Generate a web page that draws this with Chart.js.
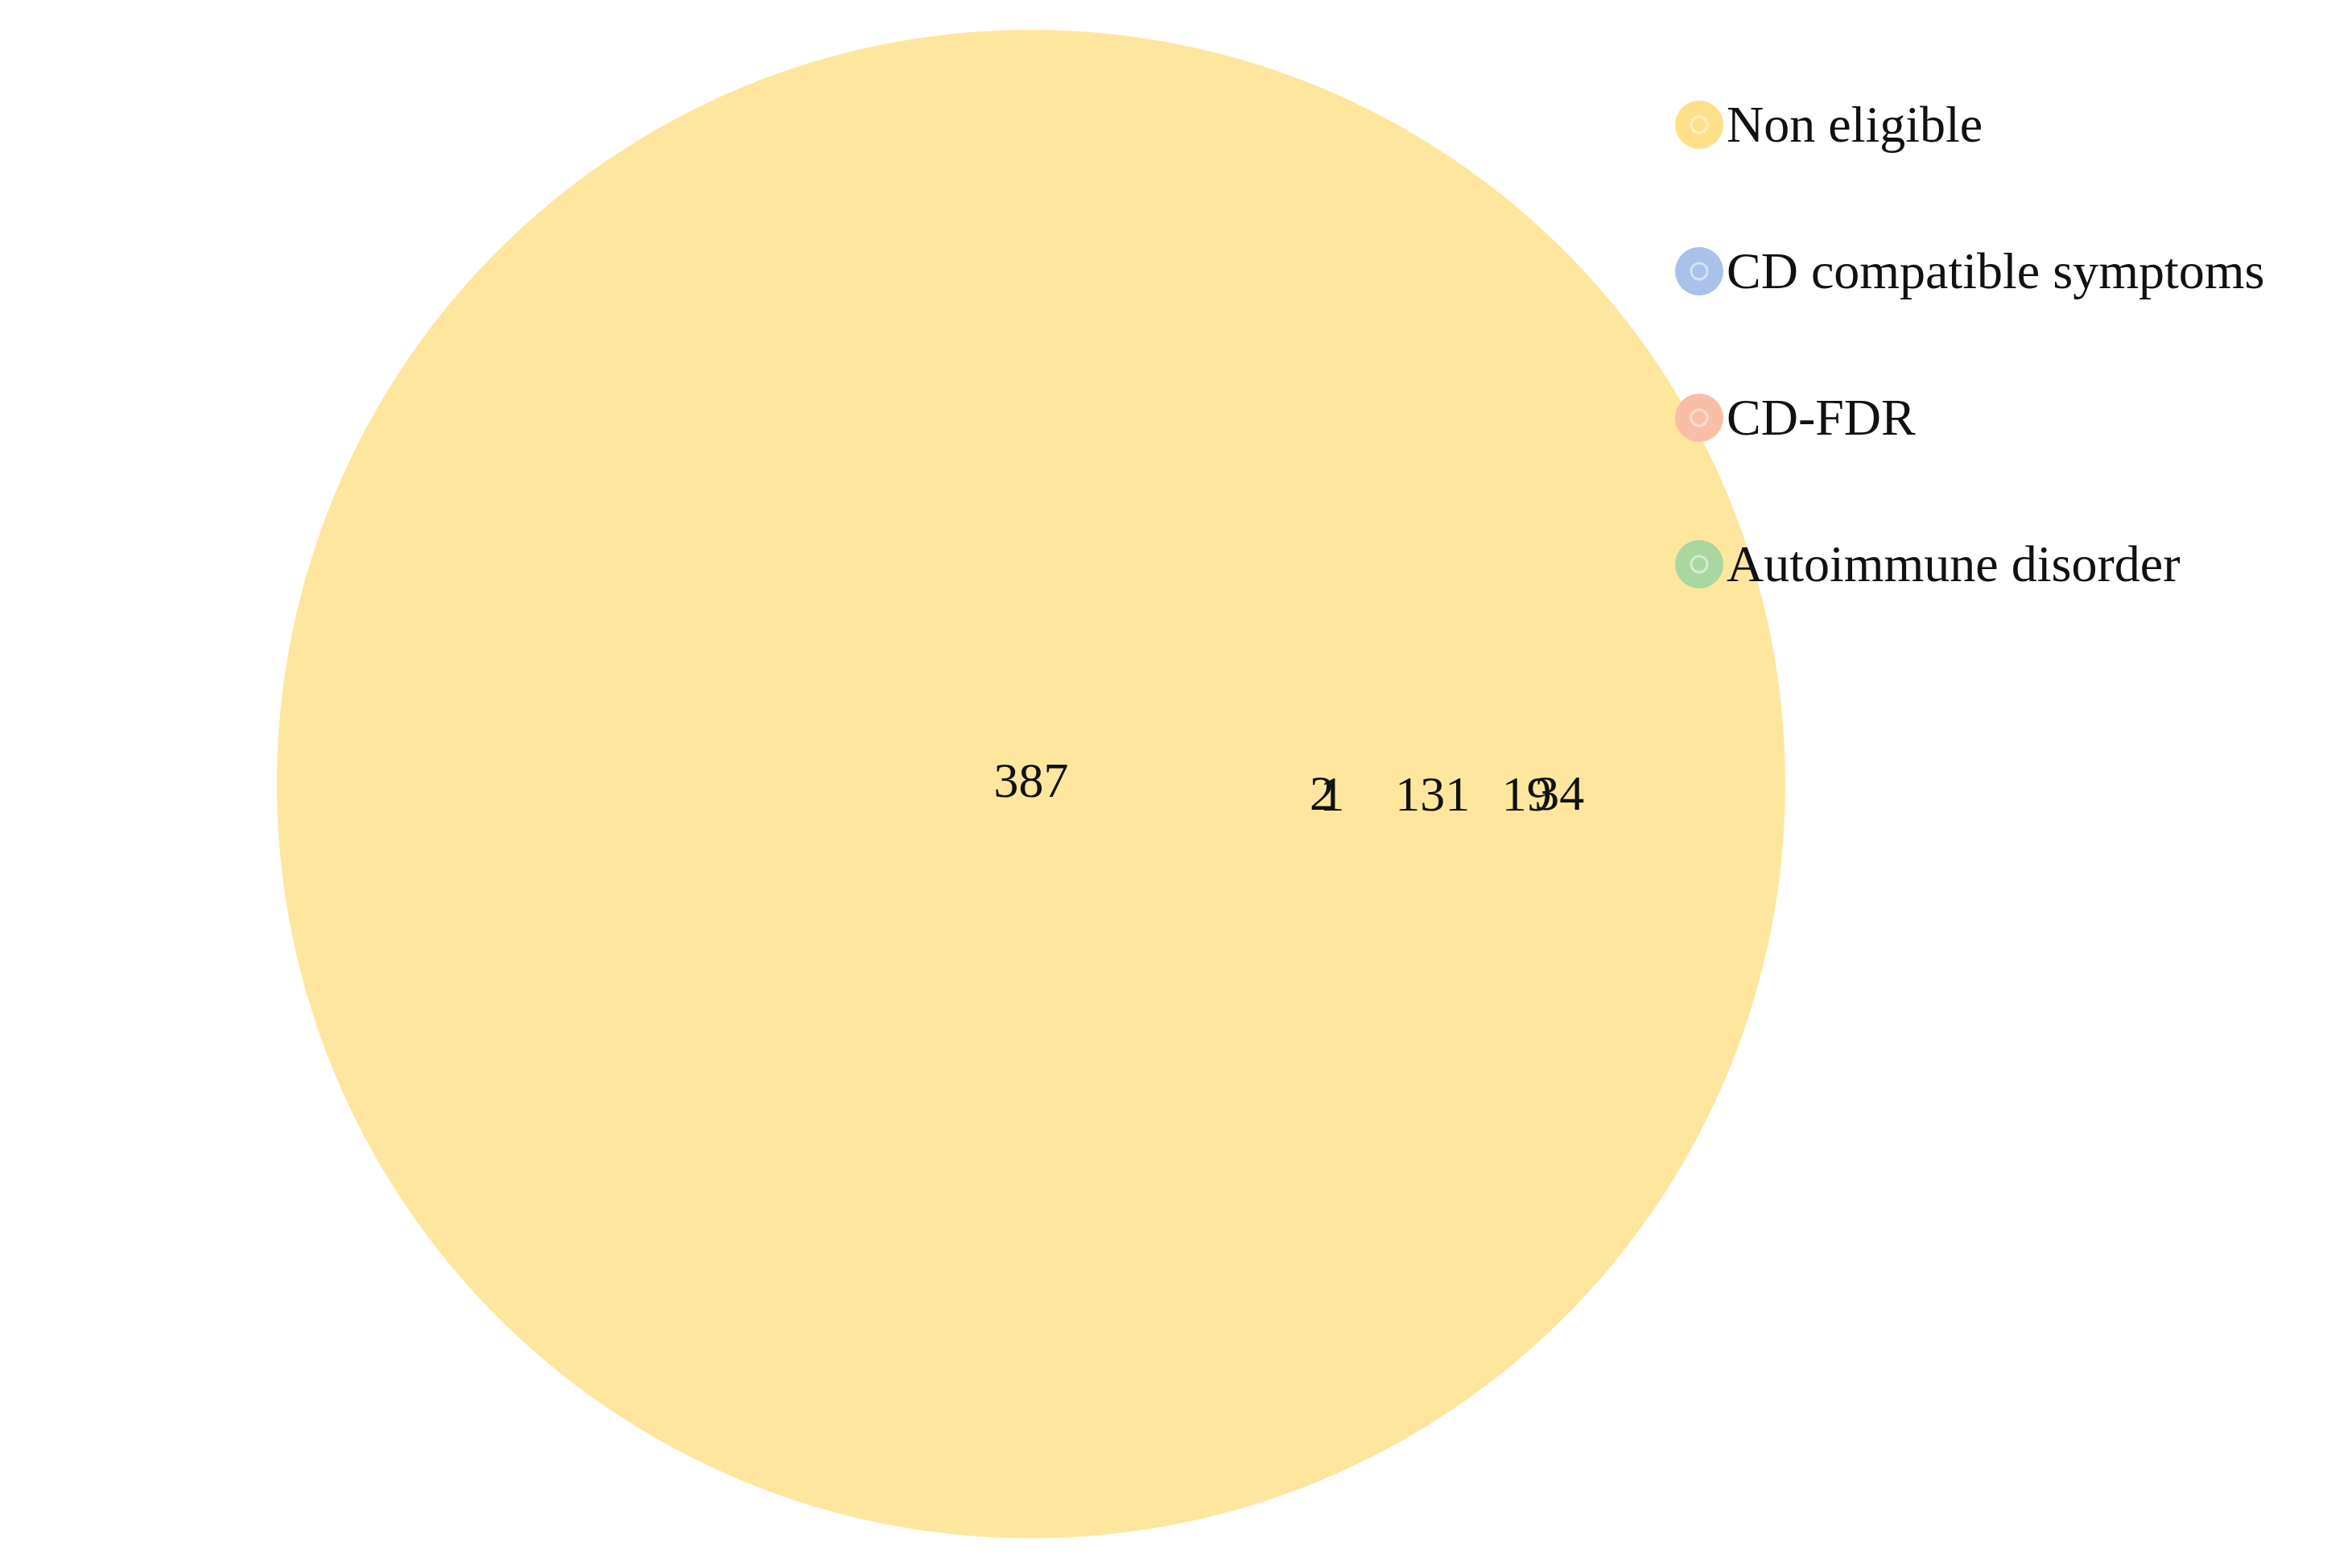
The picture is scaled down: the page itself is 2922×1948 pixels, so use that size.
<!DOCTYPE html>
<html><head><meta charset="utf-8">
<script src="https://cdn.jsdelivr.net/npm/chart.js@4/dist/chart.umd.min.js"></script>
<style>html,body{margin:0;padding:0;background:#fff;overflow:hidden}#w{width:2922px;height:1948px;position:relative}</style>
</head><body><div id="w"><canvas id="c"></canvas></div>
<script>
const setNames = ["Non eligible","CD compatible symptoms","CD-FDR","Autoimmune disorder"];
const setColors = ["rgba(255,230,158,1)","rgba(181,203,237,1)","rgba(250,160,120,0.65)","rgba(140,205,130,0.85)"];
const legendColors = ["#FFE08A","#A9C2EA","#F9BFA6","#A8D8A0"];
const circleX = [959, 2351, 2770, 1972];
const circleY = [974, 1408, 1408, 1408];
const circleR = [937, 369, 140, 19];
const labelTexts = ["387","131","19","34","2","1"];
const labelX = [959, 2350, 2676, 2789, 1967, 2002];
const labelY = [974, 1420, 1414, 1390, 1380, 1405];

const datasets = setNames.map((n,i)=>({label:n,data:[{x:circleX[i],y:circleY[i]}],
  backgroundColor:setColors[i],borderWidth:0,pointRadius:circleR[i],pointHoverRadius:circleR[i],clip:false}));

const deco = {id:'deco',afterDatasetsDraw(ch){
  const ctx=ch.ctx, xs=ch.scales.x, ys=ch.scales.y;
  ctx.save();
  ctx.font='62px "Liberation Serif"';
  ctx.fillStyle='#111';ctx.textAlign='center';ctx.textBaseline='middle';
  labelTexts.forEach((t,i)=>ctx.fillText(t,xs.getPixelForValue(labelX[i]),ys.getPixelForValue(labelY[i])));
  ctx.textAlign='left';ctx.font='64px "Liberation Serif"';
  setNames.forEach((n,i)=>{
    const y=155+i*182, x=2111;
    ctx.fillStyle=legendColors[i];ctx.beginPath();ctx.arc(x,y,30,0,Math.PI*2);ctx.fill();
    ctx.strokeStyle='rgba(255,255,255,0.5)';ctx.lineWidth=3;ctx.beginPath();ctx.arc(x,y,10,0,Math.PI*2);ctx.stroke();
    ctx.fillStyle='#111';ctx.fillText(n,2145,y+4);
  });
  ctx.restore();
}};

new Chart(document.getElementById('c'),{type:'scatter',data:{datasets},
options:{responsive:true,maintainAspectRatio:false,animation:false,layout:{padding:0},
events:[],
plugins:{legend:{display:false},tooltip:{enabled:false}},
scales:{x:{type:'linear',min:0,max:2922,display:false},y:{type:'linear',min:0,max:1948,reverse:true,display:false}}},
plugins:[deco]});
</script></body></html>
